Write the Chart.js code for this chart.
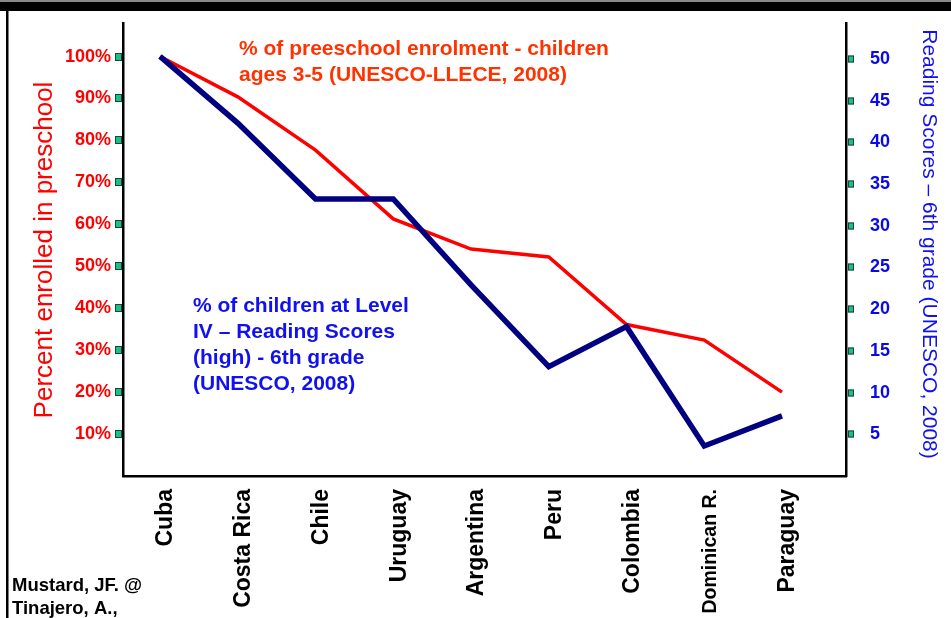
<!DOCTYPE html>
<html>
<head>
<meta charset="utf-8">
<script src="https://cdn.jsdelivr.net/npm/chart.js@4"></script>
<style>
  body { margin: 0; background: #fff; }
  #wrap { width: 951px; height: 618px; position: relative; }
</style>
</head>
<body>
<div id="wrap"><canvas id="myChart" width="951" height="618"></canvas></div>
<script>
const countries = ['Cuba', 'Costa Rica', 'Chile', 'Uruguay', 'Argentina', 'Peru', 'Colombia', 'Dominican R.', 'Paraguay'];
// % of preschool enrolment (left axis)
const preschool = [100, 90.4, 77.7, 61.3, 54.1, 52.2, 36.1, 32.4, 20.0];
// % of children at level IV reading (right axis)
const reading = [50.3, 42.3, 33.2, 33.2, 22.9, 13.1, 17.9, 3.6, 7.2];
const leftTicks = [10, 20, 30, 40, 50, 60, 70, 80, 90, 100];
const rightTicks = [5, 10, 15, 20, 25, 30, 35, 40, 45, 50];

const FONT = "'Liberation Sans', Arial, sans-serif";

// green square tick marks + the text on the slide
const slideBits = {
  id: 'slideBits',
  afterDraw(chart) {
    const c = chart.ctx;
    const yl = chart.scales.y;
    const yr = chart.scales.y2;
    c.save();
    // top bar and left rule
    c.fillStyle = '#8a8a8a';
    c.fillRect(0, 0, 951, 2);
    c.fillStyle = '#000';
    c.fillRect(0, 2, 951, 9);
    c.fillRect(6, 10, 2.5, 608);

    c.fillStyle = '#17c08c';
    c.strokeStyle = '#234236';
    c.lineWidth = 1;
    leftTicks.forEach(v => {
      const y = Math.round(yl.getPixelForValue(v));
      c.fillRect(115, y - 4, 7, 8);
      c.strokeRect(115.5, y - 3.5, 6, 7);
    });
    rightTicks.forEach(v => {
      const y = Math.round(yr.getPixelForValue(v));
      c.fillRect(848, y - 3.5, 6, 7);
      c.strokeRect(848.5, y - 3, 5, 6);
    });

    c.textAlign = 'left';
    c.textBaseline = 'alphabetic';
    c.fillStyle = '#ff3300';
    c.font = 'bold 21px ' + FONT;
    c.fillText('% of preeschool enrolment - children', 239, 55);
    c.fillText('ages 3-5 (UNESCO-LLECE, 2008)', 239, 81);

    c.fillStyle = '#1010f0';
    c.fillText('% of children at Level', 193, 312);
    c.fillText('IV \u2013 Reading Scores', 193, 338);
    c.fillText('(high) - 6th grade', 193, 364);
    c.fillText('(UNESCO, 2008)', 193, 390);

    c.fillStyle = '#000';
    c.font = 'bold 18.5px ' + FONT;
    c.fillText('Mustard, JF. @', 12, 591);
    c.fillText('Tinajero, A.,', 12, 614);

    c.textAlign = 'center';
    c.save();
    c.translate(52, 250);
    c.rotate(-Math.PI / 2);
    c.fillStyle = '#ff0000';
    c.font = '26px ' + FONT;
    c.fillText('Percent enrolled in preschool', 0, 0);
    c.restore();

    c.save();
    c.translate(923, 244);
    c.rotate(Math.PI / 2);
    c.fillStyle = '#1010f0';
    c.font = '21px ' + FONT;
    c.fillText('Reading Scores \u2013 6th grade (UNESCO, 2008)', 0, 0);
    c.restore();
    c.restore();
  }
};

const ctx = document.getElementById('myChart');

new Chart(ctx, {
  type: 'line',
  data: {
    datasets: [{
      label: 'Reading level IV',
      data: reading.map((v, i) => ({x: i, y: v})),
      yAxisID: 'y2',
      borderColor: '#000080',
      borderWidth: 5.5,
      pointRadius: 0,
      tension: 0,
      order: 0
    }, {
      label: 'Preschool enrolment',
      data: preschool.map((v, i) => ({x: i, y: v})),
      yAxisID: 'y',
      borderColor: '#ff0000',
      borderWidth: 3.5,
      pointRadius: 0,
      tension: 0,
      order: 1
    }]
  },
  options: {
    responsive: false,
    animation: false,
    layout: { padding: { top: 23, left: 0, right: 0, bottom: 0 } },
    plugins: { legend: { display: false }, tooltip: { enabled: false } },
    scales: {
      x: {
        type: 'linear',
        min: -0.476,
        max: 8.823,
        afterBuildTicks: s => { s.ticks = countries.map((c, i) => ({value: i})); },
        afterFit: s => { s.height = 142; s.paddingLeft = 0; s.paddingRight = 0; },
        grid: { drawOnChartArea: false, drawTicks: false },
        border: { display: true, color: '#000', width: 2.5 },
        ticks: {
          autoSkip: false,
          minRotation: 90,
          maxRotation: 90,
          padding: 13,
          labelOffset: 6,
          color: '#000',
          font: c => ({ family: FONT, weight: 'bold', size: countries[c.index] === 'Dominican R.' ? 19.5 : 23 }),
          callback: v => countries[v]
        }
      },
      y: {
        position: 'left',
        min: 0,
        max: 108,
        afterBuildTicks: s => { s.ticks = leftTicks.map(v => ({value: v})); },
        afterFit: s => { s.width = 123; s.paddingTop = 0; s.paddingBottom = 0; },
        grid: { drawOnChartArea: false, drawTicks: false },
        border: { display: true, color: '#000', width: 2.5 },
        ticks: {
          padding: 12,
          color: '#ff0000',
          font: { family: FONT, weight: 'bold', size: 18 },
          callback: v => v + '%'
        }
      },
      y2: {
        position: 'right',
        min: 0,
        max: 54.3,
        afterBuildTicks: s => { s.ticks = rightTicks.map(v => ({value: v})); },
        afterFit: s => { s.width = 105; s.paddingTop = 0; s.paddingBottom = 0; },
        grid: { drawOnChartArea: false, drawTicks: false },
        border: { display: true, color: '#000', width: 2.5 },
        ticks: {
          padding: 24,
          color: '#0a0ae8',
          font: { family: FONT, weight: 'bold', size: 18 }
        }
      }
    }
  },
  plugins: [slideBits]
});
</script>
</body>
</html>
